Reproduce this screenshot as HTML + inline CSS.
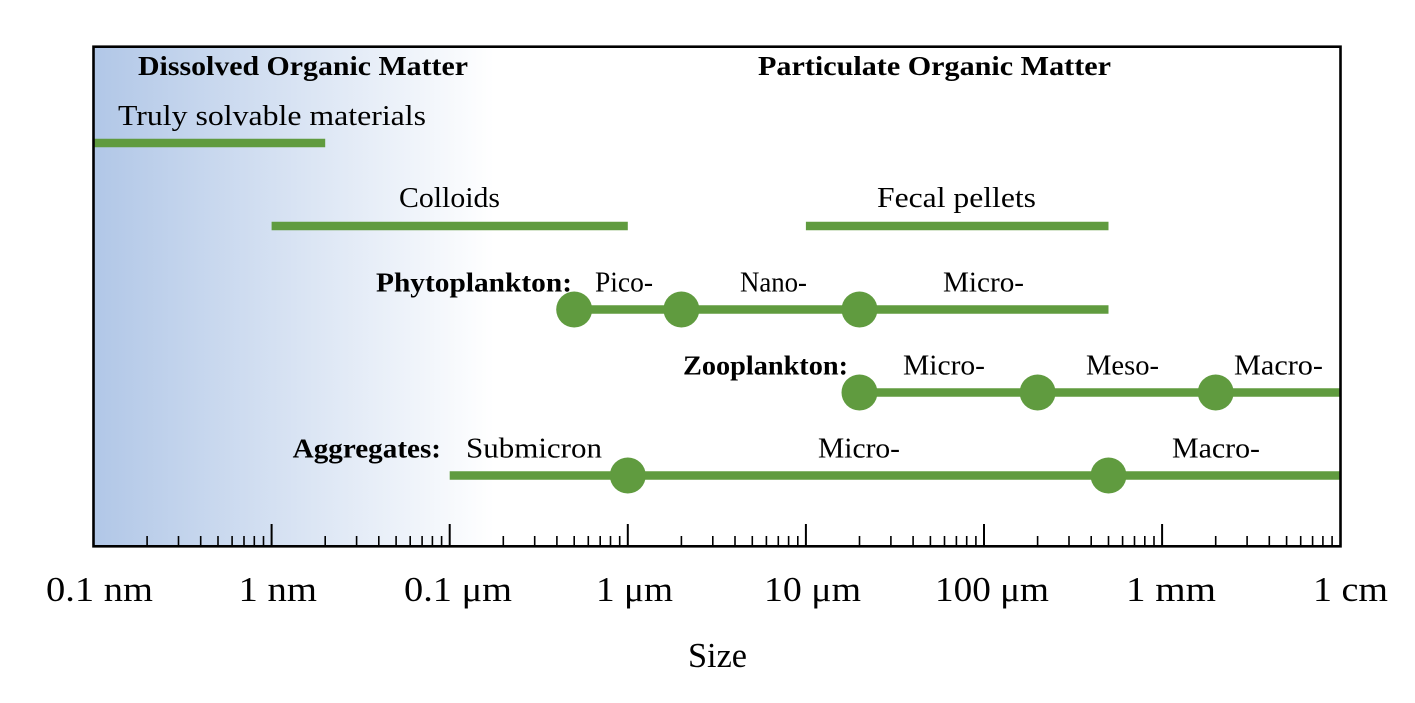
<!DOCTYPE html>
<html>
<head>
<meta charset="utf-8">
<style>
  html, body { margin: 0; padding: 0; background: #ffffff; }
  svg { display: block; }
  text { font-family: "Liberation Serif", "DejaVu Serif", serif; fill: #000; }
  .b { font-weight: bold; font-size: 27px; }
  .l { font-size: 29px; }
  .t { font-size: 35px; }
</style>
</head>
<body>
<svg width="1415" height="703" viewBox="0 0 1415 703" xmlns="http://www.w3.org/2000/svg">
  <defs>
    <linearGradient id="g" gradientUnits="userSpaceOnUse" x1="93.5" y1="0" x2="494" y2="0">
      <stop offset="0" stop-color="#b1c7e7"/>
      <stop offset="1" stop-color="#ffffff"/>
    </linearGradient>
  </defs>
  <rect x="0" y="0" width="1415" height="703" fill="#ffffff"/>
  <rect x="93.5" y="46.7" width="1247" height="499.6" fill="url(#g)"/>

  <!-- green lines -->
  <g stroke="#609b3f" stroke-width="8.5" fill="none">
    <line x1="93.5" y1="143" x2="325.2" y2="143"/>
    <line x1="271.6" y1="226" x2="627.8" y2="226"/>
    <line x1="805.9" y1="226" x2="1108.5" y2="226"/>
    <line x1="574.2" y1="309.5" x2="1108.5" y2="309.5"/>
    <line x1="859.5" y1="392.5" x2="1340.2" y2="392.5"/>
    <line x1="449.7" y1="475.5" x2="1340.2" y2="475.5"/>
  </g>
  <g fill="#609b3f">
    <circle cx="574.2" cy="309.5" r="18"/>
    <circle cx="681.4" cy="309.5" r="18"/>
    <circle cx="859.5" cy="309.5" r="18"/>
    <circle cx="859.5" cy="392.5" r="18"/>
    <circle cx="1037.6" cy="392.5" r="18"/>
    <circle cx="1215.7" cy="392.5" r="18"/>
    <circle cx="627.8" cy="475.5" r="18"/>
    <circle cx="1108.5" cy="475.5" r="18"/>
  </g>

  <!-- in-plot text -->
  <text class="b" x="138" y="75" textLength="330" lengthAdjust="spacingAndGlyphs">Dissolved Organic Matter</text>
  <text class="b" x="758" y="75" textLength="353" lengthAdjust="spacingAndGlyphs">Particulate Organic Matter</text>
  <text class="l" x="118" y="125" textLength="308" lengthAdjust="spacingAndGlyphs">Truly solvable materials</text>
  <text class="l" x="399" y="207" textLength="101" lengthAdjust="spacingAndGlyphs">Colloids</text>
  <text class="l" x="877" y="207" textLength="159" lengthAdjust="spacingAndGlyphs">Fecal pellets</text>

  <text class="b" x="376" y="291.5" textLength="196" lengthAdjust="spacingAndGlyphs">Phytoplankton:</text>
  <text class="l" x="595" y="291.5" textLength="58" lengthAdjust="spacingAndGlyphs">Pico-</text>
  <text class="l" x="740" y="291.5" textLength="67" lengthAdjust="spacingAndGlyphs">Nano-</text>
  <text class="l" x="943" y="291.5" textLength="81" lengthAdjust="spacingAndGlyphs">Micro-</text>

  <text class="b" x="683" y="374.5" textLength="165" lengthAdjust="spacingAndGlyphs">Zooplankton:</text>
  <text class="l" x="903" y="374.5" textLength="82" lengthAdjust="spacingAndGlyphs">Micro-</text>
  <text class="l" x="1086" y="374.5" textLength="73" lengthAdjust="spacingAndGlyphs">Meso-</text>
  <text class="l" x="1234" y="374.5" textLength="89" lengthAdjust="spacingAndGlyphs">Macro-</text>

  <text class="b" x="292.7" y="457.5" textLength="148.3" lengthAdjust="spacingAndGlyphs">Aggregates:</text>
  <text class="l" x="466" y="457.5" textLength="136" lengthAdjust="spacingAndGlyphs">Submicron</text>
  <text class="l" x="818" y="457.5" textLength="82" lengthAdjust="spacingAndGlyphs">Micro-</text>
  <text class="l" x="1172" y="457.5" textLength="88" lengthAdjust="spacingAndGlyphs">Macro-</text>

  <!-- ticks -->
  <g stroke="#000" stroke-width="1.6" fill="none">
    <path d="M147.1 546V536M178.5 546V536M200.7 546V536M218.0 546V536M232.1 546V536M244.0 546V536M254.3 546V536M263.5 546V536
             M325.2 546V536M356.6 546V536M378.8 546V536M396.1 546V536M410.2 546V536M422.1 546V536M432.4 546V536M441.6 546V536
             M503.3 546V536M534.7 546V536M556.9 546V536M574.2 546V536M588.3 546V536M600.2 546V536M610.5 546V536M619.7 546V536
             M681.4 546V536M712.8 546V536M735.0 546V536M752.3 546V536M766.4 546V536M778.3 546V536M788.6 546V536M797.8 546V536
             M859.5 546V536M890.9 546V536M913.1 546V536M930.4 546V536M944.5 546V536M956.4 546V536M966.7 546V536M975.9 546V536
             M1037.6 546V536M1069.0 546V536M1091.2 546V536M1108.5 546V536M1122.6 546V536M1134.5 546V536M1144.8 546V536M1154.0 546V536
             M1215.7 546V536M1247.1 546V536M1269.3 546V536M1286.6 546V536M1300.7 546V536M1312.6 546V536M1322.9 546V536M1332.1 546V536"/>
  </g>
  <g stroke="#000" stroke-width="2" fill="none">
    <path d="M271.6 546V524M449.7 546V524M627.8 546V524M805.9 546V524M984.0 546V524M1162.1 546V524"/>
  </g>

  <!-- spines -->
  <rect x="93.5" y="46.7" width="1247" height="499.6" fill="none" stroke="#000" stroke-width="2.6"/>

  <!-- tick labels -->
  <text class="t" x="46" y="601" textLength="107" lengthAdjust="spacingAndGlyphs">0.1 nm</text>
  <text class="t" x="238.5" y="601" textLength="78.5" lengthAdjust="spacingAndGlyphs">1 nm</text>
  <text class="t" x="404" y="601" textLength="108" lengthAdjust="spacingAndGlyphs">0.1 μm</text>
  <text class="t" x="596" y="601" textLength="77" lengthAdjust="spacingAndGlyphs">1 μm</text>
  <text class="t" x="764" y="601" textLength="97" lengthAdjust="spacingAndGlyphs">10 μm</text>
  <text class="t" x="935" y="601" textLength="114" lengthAdjust="spacingAndGlyphs">100 μm</text>
  <text class="t" x="1126" y="601" textLength="90" lengthAdjust="spacingAndGlyphs">1 mm</text>
  <text class="t" x="1313" y="601" textLength="75" lengthAdjust="spacingAndGlyphs">1 cm</text>

  <text class="t" x="688" y="667" textLength="59" lengthAdjust="spacingAndGlyphs">Size</text>
</svg>
</body>
</html>
